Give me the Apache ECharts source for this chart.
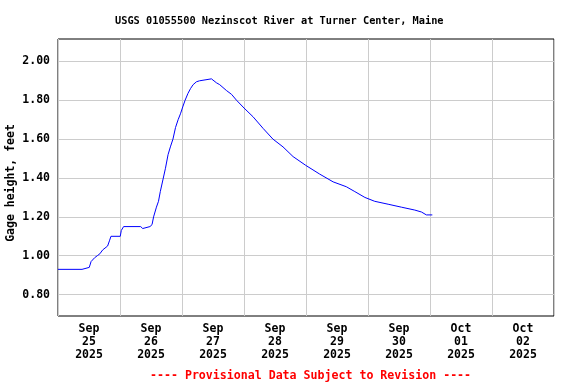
<!DOCTYPE html>
<html>
<head>
<meta charset="utf-8">
<script src="https://cdn.jsdelivr.net/npm/echarts@6/dist/echarts.min.js"></script>
<style>html,body{margin:0;padding:0;background:#fff;}#c{width:576px;height:384px;}</style>
</head>
<body>
<div id="c"></div>
<script>
// hours since 2025-09-25 00:00
const hours = [0, 9.3, 9.4, 12.1, 12.8, 13.4, 14.2, 15.2, 16.2, 16.8, 17.3, 18.0, 19.2, 19.7, 20.0, 20.5,
  24.1, 24.5, 25.0, 25.4, 32.0, 32.1, 32.3, 32.7, 32.8, 33.0, 35.6, 35.7, 36.4,
  37.0, 38.1, 38.9, 39.6, 40.6, 41.6, 42.6, 43.5, 44.5, 45.5, 46.5, 47.4, 48.4, 49.2, 50.3, 51.3, 52.3, 53.6, 54.8, 55.4,
  59.4, 61.3, 62.6, 65.2, 67.2, 69.1, 72.0, 75.5, 79.4, 83.2, 87.1, 91.0, 95.9, 101.3, 106.5, 111.6, 114.9,
  118.8, 122.6, 127.8, 132.9, 138.1, 140.7, 142.6, 144.9];
const gage = [0.93, 0.93, 0.94, 0.94, 0.97, 0.98, 0.99, 1.00, 1.01, 1.02, 1.03, 1.04, 1.05, 1.06, 1.08, 1.10,
  1.10, 1.13, 1.14, 1.15, 1.15, 1.14, 1.15, 1.15, 1.14, 1.15, 1.15, 1.16, 1.16,
  1.20, 1.25, 1.28, 1.33, 1.39, 1.45, 1.52, 1.56, 1.60, 1.66, 1.70, 1.73, 1.77, 1.80, 1.835, 1.86, 1.88, 1.895, 1.90, 1.91,
  1.91, 1.89, 1.88, 1.85, 1.83, 1.80, 1.76, 1.715, 1.655, 1.60, 1.56, 1.51, 1.465, 1.42, 1.38, 1.355, 1.33,
  1.30, 1.28, 1.265, 1.25, 1.235, 1.225, 1.21, 1.21];
const dayLabels = ['Sep\n25\n2025', 'Sep\n26\n2025', 'Sep\n27\n2025', 'Sep\n28\n2025',
  'Sep\n29\n2025', 'Sep\n30\n2025', 'Oct\n01\n2025', 'Oct\n02\n2025'];
const yTicks = [0.8, 1.0, 1.2, 1.4, 1.6, 1.8, 2.0];
const titleText = 'USGS 01055500 Nezinscot River at Turner Center, Maine';
const footText = '---- Provisional Data Subject to Revision ----';
const yName = 'Gage height, feet';

const mono = '"DejaVu Sans Mono", "Liberation Mono", monospace';
const chart = echarts.init(document.getElementById('c'), null, {renderer: 'canvas'});
chart.setOption({
  animation: false,
  backgroundColor: '#fff',
  title: [
    {text: titleText, left: 110, top: 11,
     textStyle: {fontFamily: mono, fontSize: 10.3, fontWeight: 'bold', color: '#000'}},
    {text: footText, left: 145, top: 365,
     textStyle: {fontFamily: mono, fontSize: 11.6, fontWeight: 'bold', color: '#ff0000'}}
  ],
  grid: {left: 58, right: 22, top: 39, bottom: 68, show: true, borderColor: '#000', borderWidth: 1,
    backgroundColor: 'transparent', containLabel: false, outerBoundsMode: 'none'},
  xAxis: [
    {type: 'value', min: 0, max: 192, interval: 24,
     axisLine: {show: false}, axisTick: {show: false}, axisLabel: {show: false},
     splitLine: {show: true, lineStyle: {color: '#cccccc', width: 1}}},
    {type: 'category', data: dayLabels, position: 'bottom', boundaryGap: true,
     axisLine: {show: false}, axisTick: {show: false}, splitLine: {show: false},
     axisLabel: {margin: 7, interval: 0, lineHeight: 13, fontFamily: mono, fontSize: 11.5, fontWeight: 'bold', color: '#000'}}
  ],
  yAxis: {
    type: 'value', min: 0.69, max: 2.115,
    name: yName, nameLocation: 'middle', nameRotate: 90, nameGap: 41, nameMoveOverlap: false,
    nameTextStyle: {fontFamily: mono, fontSize: 11.5, fontWeight: 'bold', color: '#000', padding: [0, 11, 0, 0]},
    axisLine: {show: false},
    axisTick: {show: false, customValues: yTicks},
    axisLabel: {customValues: yTicks, margin: 8, fontFamily: mono, fontSize: 11.5, fontWeight: 'bold', color: '#000',
      formatter: v => v.toFixed(2)},
    splitLine: {show: true, lineStyle: {color: '#cccccc', width: 1}}
  },
  series: [{
    type: 'line', xAxisIndex: 0,
    data: hours.map((h, i) => [h, gage[i]]),
    showSymbol: false, symbol: 'none',
    lineStyle: {color: '#0000ff', width: 1}
  }]
});
</script>
</body>
</html>
